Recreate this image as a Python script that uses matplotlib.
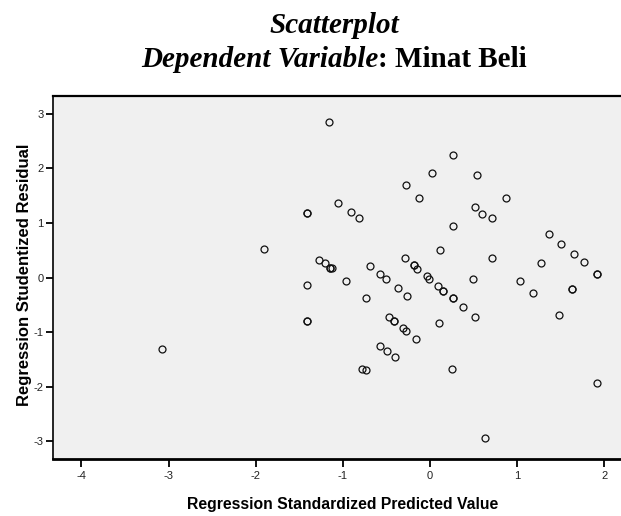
import matplotlib
matplotlib.use('Agg')
import matplotlib.pyplot as plt

# Predicted (x) and studentized residual (y) values
pred = [-3.08, -1.91, -1.41, -1.41, -1.41, -1.41, -1.41, -1.27, -1.21, -1.15,
        -1.15, -1.13, -1.16, -1.06, -0.91, -0.82, -0.97, -0.69, -0.74, -0.78,
        -0.74, -0.57, -0.51, -0.57, -0.49, -0.47, -0.42, -0.42, -0.40, -0.37,
        -0.31, -0.28, -0.29, -0.28, -0.26, -0.19, -0.19, -0.15, -0.16, -0.13,
        -0.03, -0.01, 0.02, 0.09, 0.15, 0.15, 0.10, 0.11, 0.26, 0.26,
        0.26, 0.26, 0.25, 0.38, 0.49, 0.52, 0.52, 0.54, 0.59, 0.71,
        0.71, 0.63, 0.87, 1.03, 1.18, 1.27, 1.36, 1.50, 1.48, 1.63,
        1.63, 1.65, 1.76, 1.92, 1.92, 1.92]
resid = [-1.31, 0.52, 1.18, 1.18, -0.14, -0.80, -0.80, 0.33, 0.26, 0.17,
         0.17, 0.17, 2.85, 1.37, 1.21, 1.09, -0.06, 0.22, -0.37, -1.67,
         -1.69, 0.07, -0.02, -1.25, -1.35, -0.73, -0.79, -0.79, -1.46, -0.20,
         -0.92, -0.98, 0.35, 1.70, -0.34, 0.23, 0.23, 0.16, -1.12, 1.46,
         0.02, -0.02, 1.92, -0.15, -0.24, -0.24, -0.83, 0.50, 2.24, 0.94,
         -0.37, -0.37, -1.67, -0.55, -0.02, -0.72, 1.29, 1.88, 1.16, 1.09,
         0.35, -2.95, 1.45, -0.07, -0.28, 0.27, 0.80, 0.62, -0.68, -0.21,
         -0.21, 0.43, 0.28, 0.07, 0.07, -1.94]

x_ticks = [-4, -3, -2, -1, 0, 1, 2]
y_ticks = [-3, -2, -1, 0, 1, 2, 3]

plt.rcParams['axes.unicode_minus'] = False
sans = ['Liberation Sans', 'DejaVu Sans']
serif = ['Liberation Serif', 'DejaVu Serif']

fig = plt.figure(figsize=(6.21, 5.16), dpi=100)
ax = fig.add_axes([52.7 / 621, 1 - 459 / 516, 1 - 52.7 / 621, (459 - 96) / 516])
ax.set_facecolor('#f0f0f0')

ax.plot(pred, resid, linestyle='none', marker='o', markersize=5,
        markerfacecolor='none', markeredgecolor='#111111', markeredgewidth=0.9)

ax.set_xlim(-4.33, 2.19)
ax.set_ylim(-3.33, 3.33)
ax.set_xticks(x_ticks)
ax.set_yticks(y_ticks)
ax.tick_params(direction='out', width=1.3, color='black',
               labelsize=8, labelcolor='#222222')
ax.tick_params(axis='x', length=6, pad=2.5)
ax.tick_params(axis='y', length=5, pad=1.5)
for lab in ax.get_xticklabels() + ax.get_yticklabels():
    lab.set_family(sans)

ax.spines['right'].set_visible(False)
ax.spines['top'].set_linewidth(1.6)
ax.spines['bottom'].set_linewidth(2.0)
ax.spines['left'].set_linewidth(1.2)

fig.text(343 / 621, 1 - 505 / 516, 'Regression Standardized Predicted Value',
         ha='center', va='center', fontsize=11.3, fontweight='bold', family=sans)
fig.text(24.5 / 621, 1 - 275 / 516, 'Regression Studentized Residual',
         ha='center', va='center', rotation=90, fontsize=12, fontweight='bold',
         family=sans)

# title: two lines, the second one mixes italic and upright
fig.text(334 / 621, 1 - 33.3 / 516, 'Scatterplot', ha='center', va='baseline',
         fontsize=21, fontweight='bold', fontstyle='italic', family=serif)
fig.text(378 / 621, 1 - 66.7 / 516, 'Dependent Variable', ha='right', va='baseline',
         fontsize=21, fontweight='bold', fontstyle='italic', family=serif)
fig.text(378 / 621, 1 - 66.7 / 516, ': Minat Beli', ha='left', va='baseline',
         fontsize=21, fontweight='bold', family=serif)

fig.savefig('out.png', dpi=100)
